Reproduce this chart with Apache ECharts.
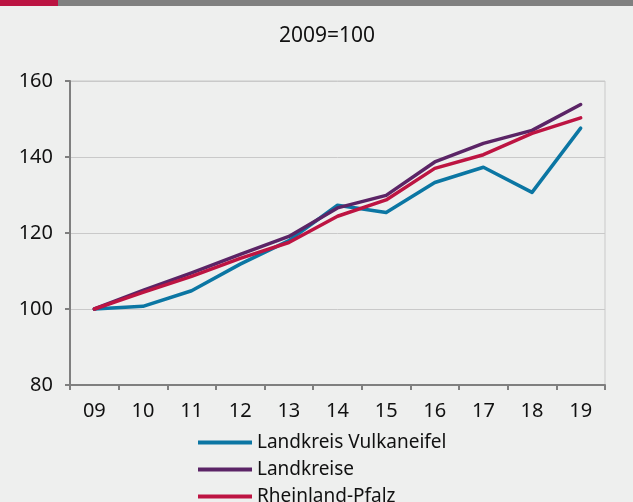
<!DOCTYPE html>
<html>
<head>
<meta charset="utf-8">
<script src="https://cdn.jsdelivr.net/npm/echarts@6/dist/echarts.min.js"></script>
<style>
  html, body { margin: 0; padding: 0; background: #eeefee; }
  #chart { width: 633px; height: 502px; }
</style>
</head>
<body>
<div id="chart"></div>
<script>
// Index values, 2009 = 100
const years = ['09', '10', '11', '12', '13', '14', '15', '16', '17', '18', '19'];
const vulkaneifel = [100, 100.7, 104.8, 111.8, 118.0, 127.3, 125.4, 133.3, 137.3, 130.7, 147.6];
const landkreise = [100, 104.9, 109.5, 114.4, 119.1, 126.6, 129.9, 138.7, 143.6, 147.0, 153.8];
const rheinlandPfalz = [100, 104.4, 108.6, 113.3, 117.5, 124.4, 128.7, 137.0, 140.6, 146.2, 150.3];

const seriesNames = ['Landkreis Vulkaneifel', 'Landkreise', 'Rheinland-Pfalz'];
const yTicks = { min: 80, max: 160, step: 20 };

const FONT = '"Noto Sans", "Open Sans", sans-serif';
const COLORS = ['#0b76a3', '#5b2466', '#bd1442'];

const chart = echarts.init(document.getElementById('chart'), null, { renderer: 'canvas' });

function lineSeries(name, data, color) {
  return {
    name: name,
    type: 'line',
    data: data,
    symbol: 'none',
    lineStyle: { color: color, width: 3.5, cap: 'round', join: 'round' },
    itemStyle: { color: color },
    emphasis: { disabled: true }
  };
}

// one single-entry legend per row, stacked under the plot
const legendRowTops = [433, 460, 487];
const legends = seriesNames.map(function (name, i) {
  return {
    orient: 'vertical',
    left: 198,
    top: legendRowTops[i],
    padding: 0,
    icon: 'rect',
    itemWidth: 54,
    itemHeight: 4,
    textStyle: { fontFamily: FONT, fontSize: 19, color: '#111', lineHeight: 19 },
    data: [name]
  };
});

chart.setOption({
  backgroundColor: '#eeefee',
  animation: false,
  textStyle: { fontFamily: FONT },
  graphic: [
    { type: 'rect', left: 0, top: 0, shape: { width: 633, height: 6 }, style: { fill: '#808080' } },
    { type: 'rect', left: 0, top: 0, shape: { width: 58, height: 6 }, style: { fill: '#bb1442' } }
  ],
  title: {
    text: '2009=100',
    left: 279,
    top: 26,
    padding: 0,
    textStyle: { fontFamily: FONT, fontSize: 21, fontWeight: 'normal', color: '#111', lineHeight: 21 }
  },
  grid: {
    left: 70, right: 28, top: 81, bottom: 117,
    show: true, borderColor: '#c9c9c9', borderWidth: 1, backgroundColor: 'transparent'
  },
  legend: legends,
  xAxis: {
    type: 'category',
    data: years,
    boundaryGap: true,
    axisLine: { lineStyle: { color: '#7f7f7f', width: 2 } },
    axisTick: { show: true, length: 5, lineStyle: { color: '#7f7f7f', width: 2 } },
    axisLabel: { fontFamily: FONT, fontSize: 20, color: '#111', margin: 16 },
    splitLine: { show: false }
  },
  yAxis: {
    type: 'value',
    min: yTicks.min,
    max: yTicks.max,
    interval: yTicks.step,
    axisLine: { show: true, lineStyle: { color: '#7f7f7f', width: 2 } },
    axisTick: { show: true, length: 5, lineStyle: { color: '#7f7f7f', width: 2 } },
    axisLabel: { fontFamily: FONT, fontSize: 20, color: '#111', margin: 17 },
    splitLine: { show: true, lineStyle: { color: '#c9c9c9', width: 1 } }
  },
  series: [
    lineSeries(seriesNames[0], vulkaneifel, COLORS[0]),
    lineSeries(seriesNames[1], landkreise, COLORS[1]),
    lineSeries(seriesNames[2], rheinlandPfalz, COLORS[2])
  ]
});
</script>
</body>
</html>
